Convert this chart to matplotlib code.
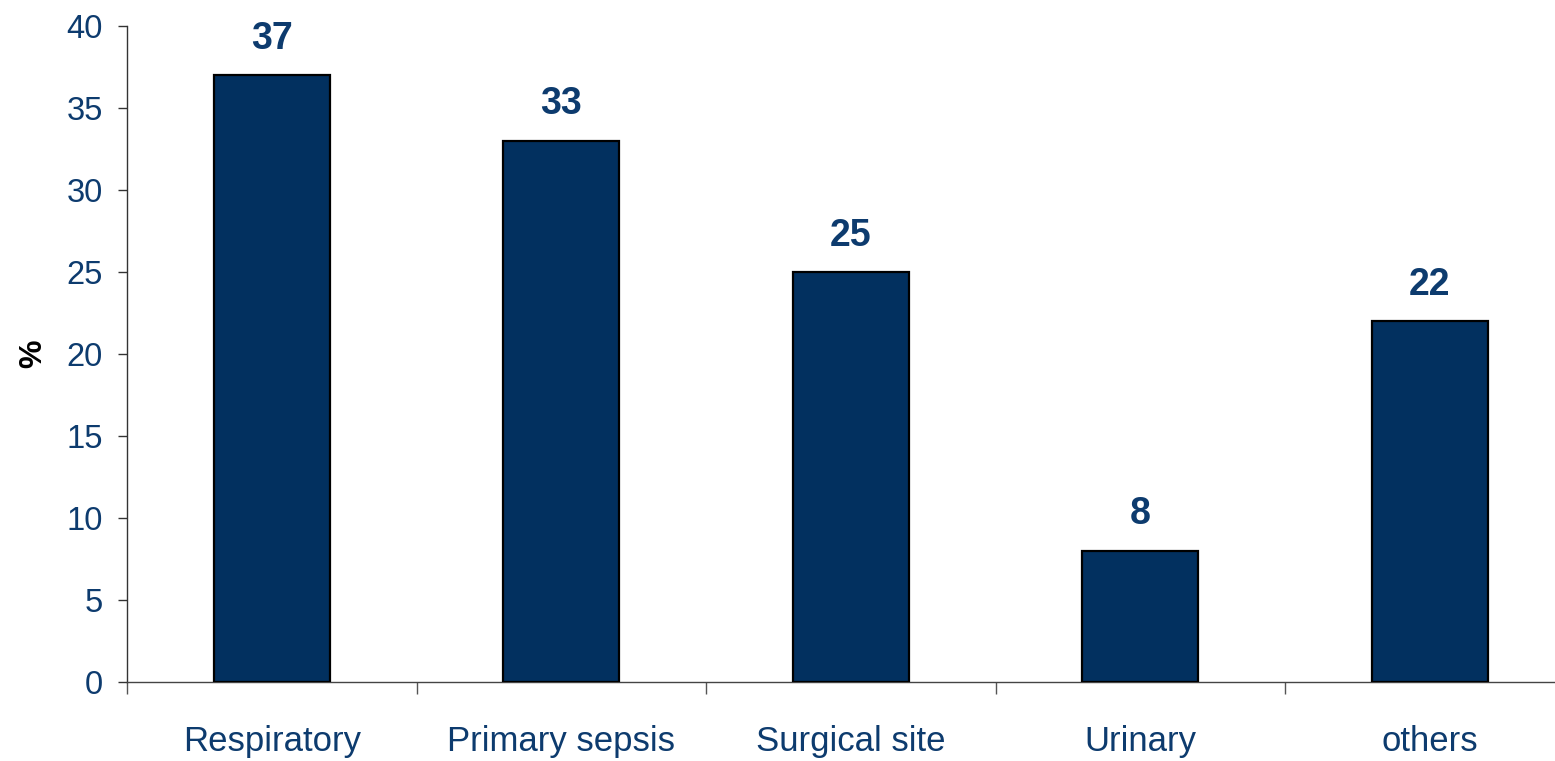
import matplotlib
matplotlib.use("Agg")
import matplotlib.pyplot as plt
import numpy as np

categories = ["Respiratory", "Primary sepsis", "Surgical site", "Urinary", "others"]
values = [37, 33, 25, 8, 22]
yticks = [0, 5, 10, 15, 20, 25, 30, 35, 40]

plt.rcParams['font.family'] = ['Liberation Sans', 'DejaVu Sans']
DPI = 100
fig = plt.figure(figsize=(15.55, 7.61), dpi=DPI)
ax = fig.add_axes([127/1555, 1-682/761, 1-127/1555, (682-26)/761])

bar_color = "#02305F"
text_color = "#0D3B6E"
x = np.arange(len(categories))
bars = ax.bar(x, values, width=0.4, color=bar_color, edgecolor="black", linewidth=1.6, zorder=3)

for xi, v in zip(x, values):
    ax.annotate(str(v), (xi, v), xytext=(0, 19), textcoords="offset points",
                ha="center", va="baseline", fontsize=27, fontweight="bold", color=text_color)

ax.set_xlim(-0.5, (1555-127)/289.5 - 0.5)
ax.set_ylim(0, 40)
ax.set_yticks(yticks)
ax.set_yticklabels([str(t) for t in yticks], fontsize=23.5, color=text_color)
ax.tick_params(axis='y', length=6.5, width=1, color="#333333", pad=11)

ax.set_xticks(x)
ax.set_xticklabels(categories, fontsize=25, color=text_color)
ax.tick_params(axis='x', which='major', length=0, pad=31)
ax.set_xticks(np.arange(len(categories)) - 0.5, minor=True)
ax.tick_params(axis='x', which='minor', length=8.5, width=1, color="#555555")

for s in ["top", "right"]:
    ax.spines[s].set_visible(False)
ax.spines["left"].set_color("#333333")
ax.spines["bottom"].set_color("#444444")
ax.spines["left"].set_linewidth(1)
ax.spines["bottom"].set_linewidth(1)

ax.set_ylabel("%", fontsize=23, fontweight="bold", color="black", labelpad=13)

fig.savefig("out.png", dpi=DPI)
